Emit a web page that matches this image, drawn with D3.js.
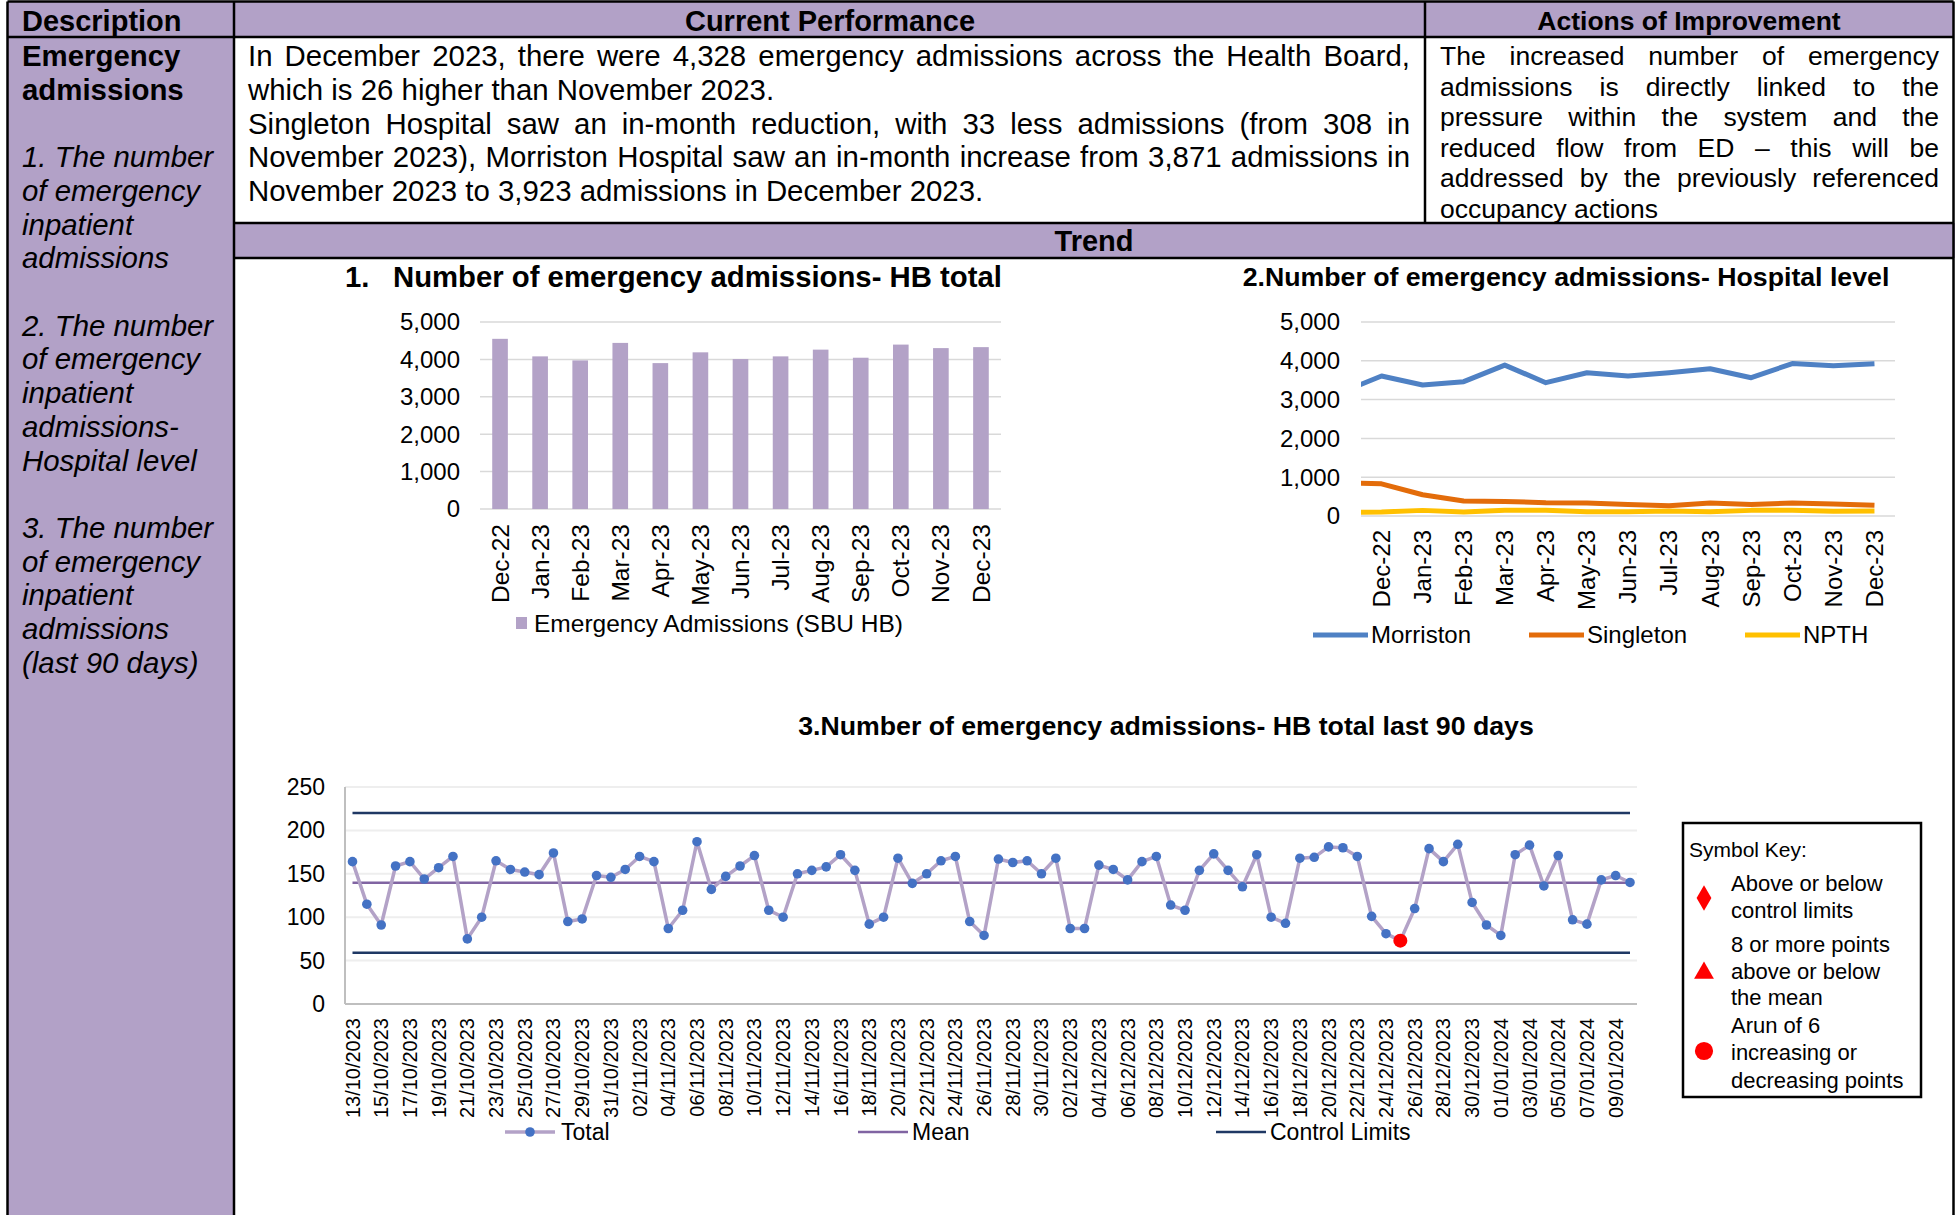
<!DOCTYPE html>
<html>
<head>
<meta charset="utf-8">
<script src="https://cdn.jsdelivr.net/npm/d3@7"></script>
<style>
  body { margin: 0; background: #fff; }
  svg { display: block; font-family: "Liberation Sans", Arial, sans-serif; }
</style>
</head>
<body>
<svg id="page"></svg>
<script>
// ---- data ----
const months = ["Dec-22", "Jan-23", "Feb-23", "Mar-23", "Apr-23", "May-23", "Jun-23",
  "Jul-23", "Aug-23", "Sep-23", "Oct-23", "Nov-23", "Dec-23"];
const hbTotal = [4550, 4081, 3973, 4441, 3901, 4189, 4009, 4081, 4261, 4045, 4396, 4302, 4328];

// hospital chart starts with a point just left of the plot (clipped)
const hospitalMonths = ["Nov-22", ...months];
const morriston = [3180, 3607, 3376, 3462, 3889, 3436, 3692, 3607, 3692, 3795, 3564, 3930, 3871, 3923];
const singleton = [865, 829, 547, 385, 376, 342, 333, 299, 265, 333, 299, 333, 308, 275];
const npth = [90, 100, 145, 100, 150, 150, 110, 110, 128, 110, 145, 150, 123, 130];

const days90 = [
  "13/10/2023", "14/10/2023", "15/10/2023", "16/10/2023", "17/10/2023", "18/10/2023", "19/10/2023",
  "20/10/2023", "21/10/2023", "22/10/2023", "23/10/2023", "24/10/2023", "25/10/2023", "26/10/2023",
  "27/10/2023", "28/10/2023", "29/10/2023", "30/10/2023", "31/10/2023",
  "01/11/2023", "02/11/2023", "03/11/2023", "04/11/2023", "05/11/2023", "06/11/2023", "07/11/2023",
  "08/11/2023", "09/11/2023", "10/11/2023", "11/11/2023", "12/11/2023", "13/11/2023", "14/11/2023",
  "15/11/2023", "16/11/2023", "17/11/2023", "18/11/2023", "19/11/2023", "20/11/2023", "21/11/2023",
  "22/11/2023", "23/11/2023", "24/11/2023", "25/11/2023", "26/11/2023", "27/11/2023", "28/11/2023",
  "29/11/2023", "30/11/2023",
  "01/12/2023", "02/12/2023", "03/12/2023", "04/12/2023", "05/12/2023", "06/12/2023", "07/12/2023",
  "08/12/2023", "09/12/2023", "10/12/2023", "11/12/2023", "12/12/2023", "13/12/2023", "14/12/2023",
  "15/12/2023", "16/12/2023", "17/12/2023", "18/12/2023", "19/12/2023", "20/12/2023", "21/12/2023",
  "22/12/2023", "23/12/2023", "24/12/2023", "25/12/2023", "26/12/2023", "27/12/2023", "28/12/2023",
  "29/12/2023", "30/12/2023", "31/12/2023",
  "01/01/2024", "02/01/2024", "03/01/2024", "04/01/2024", "05/01/2024", "06/01/2024", "07/01/2024",
  "08/01/2024", "09/01/2024", "10/01/2024"
];
const total90 = [
  164, 115, 91, 159, 164, 144, 157, 170, 75, 100,
  165, 155, 152, 149, 174, 95, 98, 148, 146, 155,
  170, 164, 87, 108, 187, 132, 147, 159, 171, 108,
  100, 150, 154, 158, 172, 154, 92, 100, 168, 139,
  150, 165, 170, 95, 79, 167, 163, 165, 150, 168,
  87, 87, 160, 155, 143, 164, 170, 114, 108, 154,
  173, 154, 135, 172, 100, 93, 168, 169, 181, 180,
  170, 101, 81, 73, 110, 179, 164, 184, 117, 91,
  79, 172, 183, 136, 171, 97, 92, 143, 148, 140
];
const meanValue = 139.6;
const upperLimit = 220;
const lowerLimit = 59;
const runSignalDays = ["25/12/2023"];

const W = 1955, H = 1215;
const purple = "#b2a1c7";
const barColor = "#b3a2c7";

const svg = d3.select("#page").attr("width", W).attr("height", H);

// helper for a single line of text, optionally justified to a width
function textLine(str, x, y, size, o = {}) {
  const t = svg.append("text")
    .attr("x", x).attr("y", y).attr("dy", "0.35em")
    .style("font-size", size + "px")
    .attr("fill", o.fill || "#000")
    .text(str);
  if (o.weight) t.style("font-weight", o.weight);
  if (o.italic) t.style("font-style", "italic");
  if (o.anchor) t.attr("text-anchor", o.anchor);
  if (o.width) {
    const natural = t.node().getComputedTextLength();
    const gaps = str.split(" ").length - 1;
    if (gaps > 0) t.style("word-spacing", ((o.width - natural) / gaps) + "px");
  }
  return t;
}

// ---- table backgrounds ----
svg.append("rect").attr("width", W).attr("height", H).attr("fill", "#fff");
svg.append("rect").attr("x", 7.5).attr("y", 1.5).attr("width", W - 9).attr("height", 35.5).attr("fill", purple);
svg.append("rect").attr("x", 7.5).attr("y", 37).attr("width", 226.5).attr("height", H - 37).attr("fill", purple);
svg.append("rect").attr("x", 234).attr("y", 223).attr("width", W - 234).attr("height", 35).attr("fill", purple);

// ---- table borders ----
const borders = [
  [7.5, 1.5, W - 1.5, 1.5],
  [7.5, 1.5, 7.5, H],
  [W - 1.5, 1.5, W - 1.5, H],
  [7.5, 37, W - 1.5, 37],
  [234, 1.5, 234, H],
  [1425, 1.5, 1425, 223],
  [234, 223, W - 1.5, 223],
  [234, 258, W - 1.5, 258]
];
svg.append("g").selectAll("line").data(borders).join("line")
  .attr("x1", d => d[0]).attr("y1", d => d[1]).attr("x2", d => d[2]).attr("y2", d => d[3])
  .attr("stroke", "#000").attr("stroke-width", 2.5);

// ---- header + text cells ----
textLine("Description", 22, 21, 29, { weight: "bold" });
textLine("Current Performance", 830, 21, 29, { weight: "bold", anchor: "middle" });
textLine("Actions of Improvement", 1689, 21, 26.5, { weight: "bold", anchor: "middle" });
textLine("Trend", 1094, 241, 29, { weight: "bold", anchor: "middle" });

const descBold = ["Emergency", "admissions"];
descBold.forEach((s, i) => textLine(s, 22, 56 + i * 33.7, 29.4, { weight: "bold" }));
const descItalic = [
  "1. The number", "of emergency", "inpatient", "admissions", "",
  "2. The number", "of emergency", "inpatient", "admissions-", "Hospital level", "",
  "3. The number", "of emergency", "inpatient", "admissions", "(last 90 days)"
];
descItalic.forEach((s, i) => { if (s) textLine(s, 22, 157 + i * 33.7, 29.4, { italic: true }); });

const perfLines = [
  ["In December 2023, there were 4,328 emergency admissions across the Health Board,", true],
  ["which is 26 higher than November 2023.", false],
  ["Singleton Hospital saw an in-month reduction, with 33 less admissions (from 308 in", true],
  ["November 2023), Morriston Hospital saw an in-month increase from 3,871 admissions in", true],
  ["November 2023 to 3,923 admissions in December 2023.", false]
];
perfLines.forEach((l, i) => textLine(l[0], 248, 56 + i * 33.7, 29.4, l[1] ? { width: 1162 } : {}));

const actionLines = [
  ["The increased number of emergency", true],
  ["admissions is directly linked to the", true],
  ["pressure within the system and the", true],
  ["reduced flow from ED \u2013 this will be", true],
  ["addressed by the previously referenced", true],
  ["occupancy actions", false]
];
actionLines.forEach((l, i) => textLine(l[0], 1440, 56 + i * 30.5, 26.5, l[1] ? { width: 499 } : {}));

// ---- chart 1: HB total bars ----
const x1 = d3.scaleBand().domain(months).range([480, 1001]).paddingInner(0.61).paddingOuter(0.305);
const y1 = d3.scaleLinear().domain([0, 5000]).range([509, 322]);
const c1 = svg.append("g");
c1.append("g").selectAll("line").data(y1.ticks(5)).join("line")
  .attr("x1", 480).attr("x2", 1001).attr("y1", d => y1(d)).attr("y2", d => y1(d))
  .attr("stroke", "#d9d9d9").attr("stroke-width", 1.5);
c1.append("g").selectAll("rect").data(hbTotal).join("rect")
  .attr("x", (d, i) => x1(months[i])).attr("width", x1.bandwidth())
  .attr("y", d => y1(d)).attr("height", d => y1(0) - y1(d))
  .attr("fill", barColor);
c1.append("g").selectAll("text").data(y1.ticks(5)).join("text")
  .attr("x", 460).attr("y", d => y1(d)).attr("dy", "0.35em").attr("text-anchor", "end")
  .style("font-size", "24px").text(d3.format(","));
c1.append("g").selectAll("text").data(months).join("text")
  .attr("transform", d => `translate(${x1(d) + x1.bandwidth() / 2},524) rotate(-90)`)
  .attr("dy", "0.35em").attr("text-anchor", "end").style("font-size", "24.5px").text(d => d);
textLine("1.", 345, 277, 29.3, { weight: "bold" });
textLine("Number of emergency admissions- HB total", 393, 277, 29.3, { weight: "bold" });
c1.append("rect").attr("x", 516).attr("y", 617).attr("width", 11).attr("height", 12).attr("fill", barColor);
textLine("Emergency Admissions (SBU HB)", 534, 623, 24.5);

// ---- chart 2: hospital lines ----
const band2 = d3.scaleBand().domain(months).range([1361, 1895]);
const x2 = d3.scalePoint().domain(hospitalMonths)
  .range([1361 - band2.step() / 2, 1895 - band2.step() / 2]);
const y2 = d3.scaleLinear().domain([0, 5000]).range([516, 322]);
const c2 = svg.append("g");
svg.append("clipPath").attr("id", "clip2").append("rect")
  .attr("x", 1361).attr("y", 300).attr("width", 534).attr("height", 230);
c2.append("g").selectAll("line").data(y2.ticks(5)).join("line")
  .attr("x1", 1361).attr("x2", 1895).attr("y1", d => y2(d)).attr("y2", d => y2(d))
  .attr("stroke", "#d9d9d9").attr("stroke-width", 1.5);
c2.append("g").selectAll("text").data(y2.ticks(5)).join("text")
  .attr("x", 1340).attr("y", d => y2(d)).attr("dy", "0.35em").attr("text-anchor", "end")
  .style("font-size", "24px").text(d3.format(","));
const hospitals = [
  { name: "Morriston", values: morriston, color: "#4f81c4" },
  { name: "Singleton", values: singleton, color: "#e36c0a" },
  { name: "NPTH", values: npth, color: "#ffc000" }
];
const line2 = d3.line().x((d, i) => x2(hospitalMonths[i])).y(d => y2(d));
c2.append("g").attr("clip-path", "url(#clip2)").selectAll("path").data(hospitals.slice().reverse()).join("path")
  .attr("d", d => line2(d.values)).attr("fill", "none")
  .attr("stroke", d => d.color).attr("stroke-width", 5).attr("stroke-linejoin", "round");
c2.append("g").selectAll("text").data(months).join("text")
  .attr("transform", d => `translate(${x2(d)},530) rotate(-90)`)
  .attr("dy", "0.35em").attr("text-anchor", "end").style("font-size", "24px").text(d => d);
textLine("2.Number of emergency admissions- Hospital level", 1566, 277, 26.7, { weight: "bold", anchor: "middle" });
const leg2x = [1313, 1529, 1745];
hospitals.forEach((h, i) => {
  c2.append("line").attr("x1", leg2x[i]).attr("x2", leg2x[i] + 55).attr("y1", 635).attr("y2", 635)
    .attr("stroke", h.color).attr("stroke-width", 5);
  textLine(h.name, leg2x[i] + 58, 635, 24);
});

// ---- chart 3: last 90 days SPC ----
const x3 = d3.scalePoint().domain(days90).range([352.5, 1630]);
const y3 = d3.scaleLinear().domain([0, 250]).range([1004, 787]);
const c3 = svg.append("g");
c3.append("g").selectAll("line").data(y3.ticks(5)).join("line")
  .attr("x1", 345).attr("x2", 1637).attr("y1", d => y3(d)).attr("y2", d => y3(d))
  .attr("stroke", d => d === 0 ? "#bfbfbf" : "#eeeeee").attr("stroke-width", 2);
c3.append("line").attr("x1", 345).attr("x2", 345).attr("y1", y3(250)).attr("y2", y3(0))
  .attr("stroke", "#bfbfbf").attr("stroke-width", 2);
c3.append("g").selectAll("text").data(y3.ticks(5)).join("text")
  .attr("x", 325).attr("y", d => y3(d)).attr("dy", "0.35em").attr("text-anchor", "end")
  .style("font-size", "23px").text(d => d);
const xFirst = x3(days90[0]), xLast = x3(days90[days90.length - 1]);
[upperLimit, lowerLimit].forEach(v => c3.append("line")
  .attr("x1", xFirst).attr("x2", xLast).attr("y1", y3(v)).attr("y2", y3(v))
  .attr("stroke", "#1f3864").attr("stroke-width", 2.5));
c3.append("line").attr("x1", xFirst).attr("x2", xLast).attr("y1", y3(meanValue)).attr("y2", y3(meanValue))
  .attr("stroke", "#8064a2").attr("stroke-width", 2.5);
const line3 = d3.line().x((d, i) => x3(days90[i])).y(d => y3(d));
c3.append("path").attr("d", line3(total90)).attr("fill", "none")
  .attr("stroke", "#b3a2c7").attr("stroke-width", 3.5).attr("stroke-linejoin", "round");
c3.append("g").selectAll("circle").data(total90).join("circle")
  .attr("cx", (d, i) => x3(days90[i])).attr("cy", d => y3(d))
  .attr("r", (d, i) => runSignalDays.includes(days90[i]) ? 7 : 4.8)
  .attr("fill", (d, i) => runSignalDays.includes(days90[i]) ? "#ff0000" : "#4472c4");
c3.append("g").selectAll("text").data(days90.filter((d, i) => i % 2 === 0)).join("text")
  .attr("transform", d => `translate(${x3(d)},1018) rotate(-90)`)
  .attr("dy", "0.35em").attr("text-anchor", "end").style("font-size", "20px").text(d => d);
textLine("3.Number of emergency admissions- HB total last 90 days", 1166, 726, 26.7, { weight: "bold", anchor: "middle" });

// legend
c3.append("line").attr("x1", 505).attr("x2", 555).attr("y1", 1132).attr("y2", 1132)
  .attr("stroke", "#b3a2c7").attr("stroke-width", 3.5);
c3.append("circle").attr("cx", 530).attr("cy", 1132).attr("r", 4.8).attr("fill", "#4472c4");
textLine("Total", 561, 1132, 23);
c3.append("line").attr("x1", 858).attr("x2", 908).attr("y1", 1132).attr("y2", 1132)
  .attr("stroke", "#8064a2").attr("stroke-width", 2.5);
textLine("Mean", 912, 1132, 23);
c3.append("line").attr("x1", 1216).attr("x2", 1266).attr("y1", 1132).attr("y2", 1132)
  .attr("stroke", "#1f3864").attr("stroke-width", 2.5);
textLine("Control Limits", 1270, 1132, 23);

// symbol key
c3.append("rect").attr("x", 1683).attr("y", 823).attr("width", 238).attr("height", 274)
  .attr("fill", "#fff").attr("stroke", "#000").attr("stroke-width", 2.5);
textLine("Symbol Key:", 1689, 850, 21);
const keyLines = [
  ["Above or below", 883], ["control limits", 910], ["8 or more points", 944],
  ["above or below", 971], ["the mean", 997], ["Arun of 6", 1025],
  ["increasing or", 1052], ["decreasing points", 1080]
];
keyLines.forEach(k => textLine(k[0], 1731, k[1], 22));
const keySymbols = [
  [d3.symbolDiamond, 190, 898], [d3.symbolTriangle, 170, 973], [d3.symbolCircle, 260, 1051]
];
keySymbols.forEach(s => c3.append("path")
  .attr("d", d3.symbol().type(s[0]).size(s[1])())
  .attr("transform", `translate(1704,${s[2]})`).attr("fill", "#ff0000"));
</script>
</body>
</html>
